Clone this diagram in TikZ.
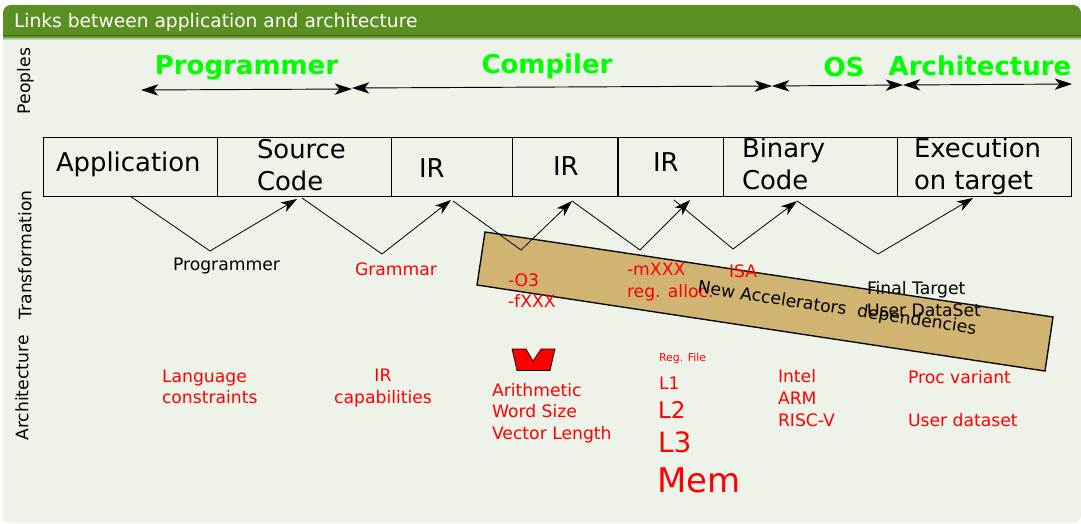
\documentclass[tikz,border=0pt]{standalone}
\usepackage{fontspec}
\setmainfont{DejaVu Sans}
\usetikzlibrary{arrows.meta}
\definecolor{bodybg}{HTML}{EEF3EA}
\definecolor{titlegreen}{HTML}{5A8F22}
\definecolor{tanfill}{HTML}{D2B472}
\definecolor{brightgreen}{HTML}{00FF00}
\tikzset{
  x=0.75pt,y=-0.75pt,
  zig/.style={draw=black,line width=0.6pt,-{Stealth[length=12pt,width=8pt,inset=3.4pt]}},
  span/.style={draw=black,line width=0.7pt,{Stealth[length=13pt,width=8.5pt,inset=3.6pt]}-{Stealth[length=13pt,width=8.5pt,inset=3.6pt]}},
  cell/.style={draw=black,line width=1.1pt,anchor=north west,inner sep=0pt,minimum height=44.25pt},
  txt/.style={inner sep=0pt,outer sep=0pt,align=left},
  big/.style={txt,anchor=west,font=\fontsize{19.4pt}{24pt}\selectfont},
  who/.style={txt,text=brightgreen,font=\fontsize{19.5pt}{23pt}\selectfont\bfseries},
  side/.style={txt,rotate=90,font=\fontsize{12.9pt}{16pt}\selectfont},
  red/.style={txt,anchor=west,text=red,font=\fontsize{12.9pt}{16.2pt}\selectfont},
  blk/.style={txt,anchor=west,text=black,font=\fontsize{12.9pt}{16.2pt}\selectfont},
}
\begin{document}
\begin{tikzpicture}
\useasboundingbox (0,0) rectangle (1081,524);
\fill[white] (0,0) rectangle (1081,524);
% panel
\fill[bodybg,rounded corners=6pt] (3,10) rectangle (1081,523);
\fill[titlegreen,rounded corners=6pt] (3,5) -- (1081,5) -- (1081,36) -- (3,36) -- cycle;
\fill[titlegreen] (3,20) rectangle (1081,36);
\shade[top color=titlegreen,bottom color=bodybg] (3,36) rectangle (1081,40);
\node[txt,anchor=base west,text=white,font=\fontsize{14pt}{16pt}\selectfont] (title) at (14,28) {Links between application and architecture};
% side labels
\node[side] (sp) at (25.5,81) {Peoples};
\node[side] (st) at (25,255) {Transformation};
\node[side] (sa) at (22,388) {Architecture};
% people
\node[who] (wprog) at (246.5,68) {Programmer};
\node[who] (wcomp) at (547,66) {Compiler};
\node[who] (wos) at (844,67) {OS};
\node[who] (warch) at (980,66) {Architecture};
\coordinate (p1) at (141,90);
\coordinate (p2) at (352,89);
\coordinate (p3) at (352,88);
\coordinate (p4) at (772,86);
\coordinate (p5) at (772,86);
\coordinate (p6) at (903,85);
\coordinate (p7) at (903,85);
\coordinate (p8) at (1072,84);
\draw[span] (p1) -- (p2);
\draw[span] (p3) -- (p4);
\draw[span] (p5) -- (p6);
\draw[span] (p7) -- (p8);
% tan band
\draw[fill=tanfill,draw=black,line width=1pt] (485,232) -- (1053,317) -- (1045,371) -- (477,285) -- cycle;
% cells
\node[cell,minimum width=130.5pt] (c1) at (42.5,137) {};
\node[cell,minimum width=130.5pt] (c2) at (217,137) {};
\node[cell,minimum width=90.75pt] (c3) at (391,137) {};
\node[cell,minimum width=78.75pt] (c4) at (512,137) {};
\node[cell,minimum width=78.75pt] (c5) at (618,137) {};
\node[cell,minimum width=130.5pt] (c6) at (723,137) {};
\node[cell,minimum width=130.5pt] (c7) at (897,137) {};
\node[big] (t1) at (56,164) {Application};
\node[big] (t2) at (257,165) {Source\\Code};
\node[big] (t3) at (419,168) {IR};
\node[big] (t4) at (553,166) {IR};
\node[big] (t5) at (653,162) {IR};
\node[big] (t6) at (742,164) {Binary\\Code};
\node[big] (t7) at (914,166.5) {Execution\\on target};
% zigzags
\coordinate (z1a) at (130,196); \coordinate (z1b) at (210,251); \coordinate (z1c) at (297,199);
\coordinate (z2a) at (302,198); \coordinate (z2b) at (382,254); \coordinate (z2c) at (451,200);
\coordinate (z3a) at (453,201); \coordinate (z3b) at (521,250); \coordinate (z3c) at (572,201);
\coordinate (z4a) at (572,201); \coordinate (z4b) at (640,250); \coordinate (z4c) at (690,200);
\coordinate (z5a) at (674,200); \coordinate (z5b) at (733,249); \coordinate (z5c) at (797,201);
\coordinate (z6a) at (797,201); \coordinate (z6b) at (878,254); \coordinate (z6c) at (973,198);
\draw[zig] (z1a) -- (z1b) -- (z1c);
\draw[zig] (z2a) -- (z2b) -- (z2c);
\draw[zig] (z3a) -- (z3b) -- (z3c);
\draw[zig] (z4a) -- (z4b) -- (z4c);
\draw[zig] (z5a) -- (z5b) -- (z5c);
\draw[zig] (z6a) -- (z6b) -- (z6c);
% transformation labels
\node[blk] (l1) at (173,266) {Programmer};
\node[red] (l2) at (355,269) {Grammar};
\node[red] (l3) at (508,290.5) {-O3\\-fXXX};
\node[red] (l4) at (627,282) {-mXXX\\reg. alloc.};
\node[red] (l5) at (729,271) {ISA};
\node[blk] (l6) at (867,299) {Final Target\\User DataSet};
\node[txt,rotate=-8.5,font=\fontsize{12.9pt}{16pt}\selectfont] (band) at (837,309) {New Accelerators\ \ dependencies};
% architecture labels
\node[red] (a1) at (162,387) {Language\\constraints};
\node[red,align=center,anchor=center] (a2) at (383,388) {IR\\capabilities};
\draw[fill=red,draw=black,line width=0.5pt] (512,349) -- (526,349) -- (533,361) -- (541,349) -- (555,349) -- (550,370.5) -- (517,370.5) -- cycle;
\node[red] (a3) at (492,413) {Arithmetic\\Word Size\\Vector Length};
\node[red,font=\fontsize{8.2pt}{10pt}\selectfont] (m0) at (659,358) {Reg. File};
\node[red] (m1) at (659,383) {L1};
\node[red,font=\fontsize{17.2pt}{20pt}\selectfont] (m2) at (658,410) {L2};
\node[red,font=\fontsize{21pt}{24pt}\selectfont] (m3) at (658,442) {L3};
\node[red,font=\fontsize{25.5pt}{30pt}\selectfont] (m4) at (657,480) {Mem};
\node[red] (a4) at (778,398) {Intel\\ARM\\RISC-V};
\node[red] (a5) at (908,377) {Proc variant};
\node[red] (a6) at (908,420) {User dataset};
\end{tikzpicture}
\end{document}
